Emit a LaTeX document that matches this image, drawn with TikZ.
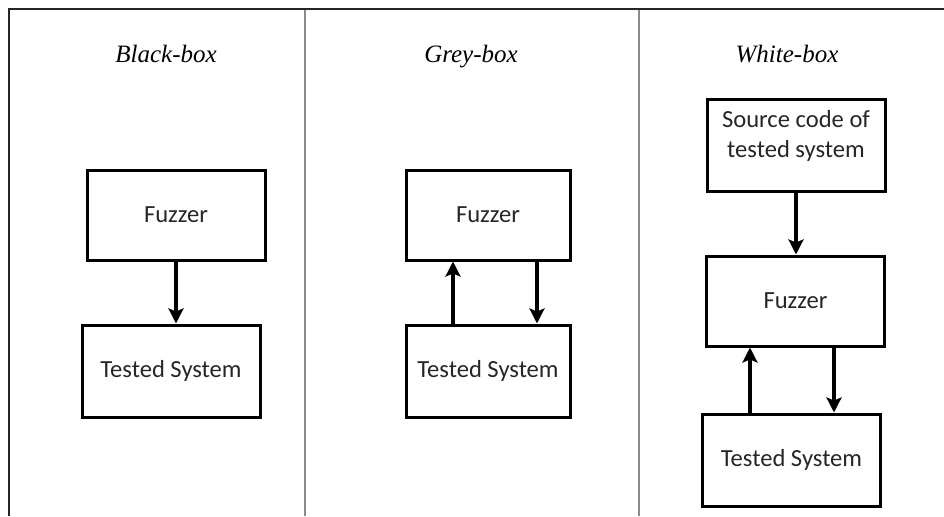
\documentclass[tikz,border=0pt]{standalone}
\usepackage{fontspec}
\setmainfont{Carlito}
\newfontfamily\titlefont{Liberation Serif}
\usetikzlibrary{arrows.meta,calc}
\begin{document}
\begin{tikzpicture}[x=0.5pt,y=-0.5pt,
  box/.style={draw=black,line width=1.5pt,inner sep=0pt,font=\fontsize{12.3}{15}\selectfont,text=black!85},
  ttl/.style={font=\titlefont\itshape\fontsize{12.5}{15}\selectfont,anchor=base},
  arr/.style={line width=1.6pt,-{Stealth[length=7.5pt,width=7.5pt,inset=1.5pt]}},
  frame/.style={line width=1pt,black!85},
  divider/.style={line width=0.8pt,black!45}]
\useasboundingbox (0,0) rectangle (944,516);
% frame
\draw[frame] (9,516) -- (9,9) -- (944,9);
\draw[divider] (305,10) -- (305,516);
\draw[divider] (639,10) -- (639,516);
% titles
\node[ttl] (tb) at (166,62) {Black-box};
\node[ttl] (tg) at (471,62) {Grey-box};
\node[ttl] (tw) at (787,62) {White-box};
% black-box
\node[box,minimum width=89pt,minimum height=45pt] (f1) at (176,215) {Fuzzer};
\node[box,minimum width=89pt,minimum height=46pt] (t1) at (171,371) {Tested System};
\draw[arr] (f1.south) -- (f1.south |- t1.north);
% grey-box
\node[box,minimum width=82pt,minimum height=45pt] (f2) at (488,215) {Fuzzer};
\node[box,minimum width=82pt,minimum height=46pt] (t2) at (488,371) {Tested System};
\coordinate (u2) at ($(t2.north)+(-35,0)$);
\coordinate (d2) at ($(f2.south)+(49,0)$);
\draw[arr] (u2) -- (u2 |- f2.south);
\draw[arr] (d2) -- (d2 |- t2.north);
% white-box
\node[box,minimum width=89pt,minimum height=46pt] (s3) at (796,145) {};
\node[font=\fontsize{12.3}{15}\selectfont,text=black!85,align=center,anchor=north,inner sep=0pt] (s3t) at ($(s3.north)+(0,13)$) {Source code of\\tested system};
\node[box,minimum width=89pt,minimum height=45pt] (f3) at (795.5,301) {Fuzzer};
\node[box,minimum width=89pt,minimum height=46pt] (t3) at (791.5,460) {Tested System};
\draw[arr] (s3.south) -- (s3.south |- f3.north);
\coordinate (u3) at ($(t3.north)+(-41.5,0)$);
\coordinate (d3) at ($(f3.south)+(38.5,0)$);
\draw[arr] (u3) -- (u3 |- f3.south);
\draw[arr] (d3) -- (d3 |- t3.north);
\end{tikzpicture}
\end{document}
